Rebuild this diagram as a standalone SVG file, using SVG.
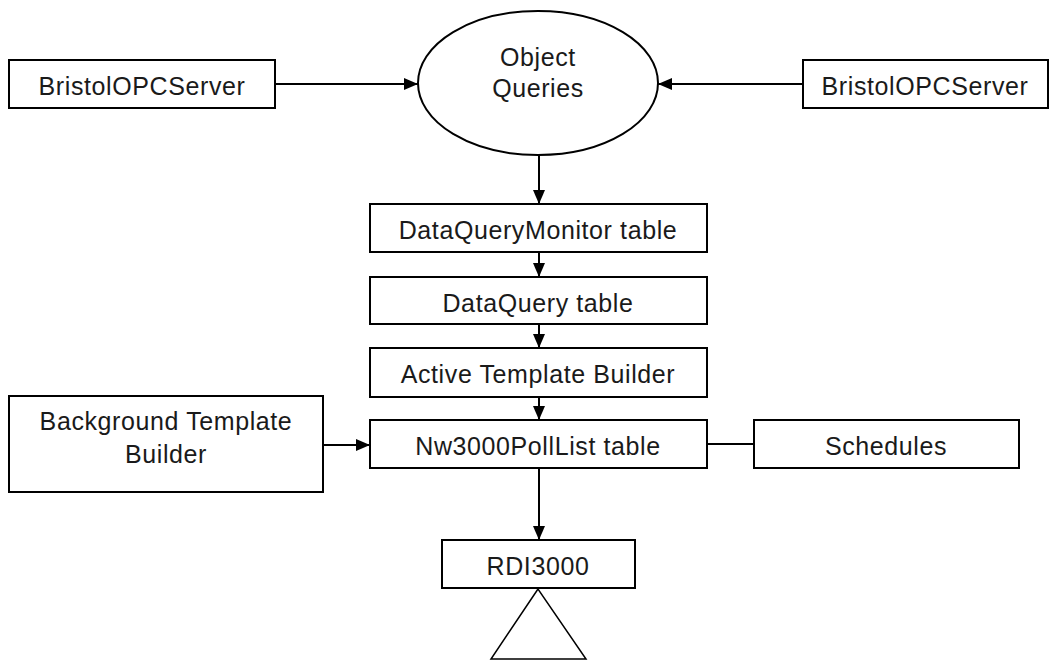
<svg xmlns="http://www.w3.org/2000/svg" width="1056" height="661" viewBox="0 0 1056 661">
<style>
.box{fill:#fff;stroke:#000;stroke-width:2}
.lbl{font-family:"Liberation Sans",Arial,sans-serif;font-size:25px;letter-spacing:0.6px;fill:#1a1a1a;text-anchor:middle}
.ln{stroke:#000;stroke-width:2;fill:none}
</style>
<defs>
<marker id="ah" markerWidth="14" markerHeight="12" refX="14" refY="6" orient="auto" markerUnits="userSpaceOnUse">
<path d="M0,0 L14,6 L0,12 Z" fill="#000"/>
</marker>
</defs>
<rect width="1056" height="661" fill="#fff"/>
<g id="connectors">
<line class="ln" x1="275" y1="84" x2="418" y2="84" marker-end="url(#ah)"/>
<line class="ln" x1="803" y1="84" x2="658" y2="84" marker-end="url(#ah)"/>
<line class="ln" x1="539" y1="155" x2="539" y2="204" marker-end="url(#ah)"/>
<line class="ln" x1="539" y1="252" x2="539" y2="277" marker-end="url(#ah)"/>
<line class="ln" x1="539" y1="324" x2="539" y2="348" marker-end="url(#ah)"/>
<line class="ln" x1="539" y1="397" x2="539" y2="420" marker-end="url(#ah)"/>
<line class="ln" x1="323" y1="445" x2="370" y2="445" marker-end="url(#ah)"/>
<line class="ln" x1="707" y1="444" x2="754" y2="444"/>
<line class="ln" x1="539" y1="468" x2="539" y2="540" marker-end="url(#ah)"/>
</g>
<g id="bristol-left">
<rect class="box" x="9" y="60" width="266" height="48"/>
<text class="lbl" x="142" y="95">BristolOPCServer</text>
</g>
<g id="object-queries">
<ellipse class="box" cx="538" cy="83" rx="120" ry="72"/>
<text class="lbl" x="538" y="66">Object</text>
<text class="lbl" x="538" y="97">Queries</text>
</g>
<g id="bristol-right">
<rect class="box" x="803" y="60" width="245" height="48"/>
<text class="lbl" x="925" y="95">BristolOPCServer</text>
</g>
<g id="dqm">
<rect class="box" x="370" y="204" width="337" height="48"/>
<text class="lbl" x="538" y="239">DataQueryMonitor table</text>
</g>
<g id="dq">
<rect class="box" x="370" y="277" width="337" height="47"/>
<text class="lbl" x="538" y="312">DataQuery table</text>
</g>
<g id="atb">
<rect class="box" x="370" y="348" width="337" height="49"/>
<text class="lbl" x="538" y="383">Active Template Builder</text>
</g>
<g id="btb">
<rect class="box" x="9" y="396" width="314" height="96"/>
<text class="lbl" x="166" y="430">Background Template</text>
<text class="lbl" x="166" y="463">Builder</text>
</g>
<g id="nw3000">
<rect class="box" x="370" y="420" width="337" height="48"/>
<text class="lbl" x="538" y="455">Nw3000PollList table</text>
</g>
<g id="schedules">
<rect class="box" x="754" y="420" width="265" height="48"/>
<text class="lbl" x="886" y="455">Schedules</text>
</g>
<g id="rdi3000">
<rect class="box" x="442" y="540" width="193" height="48"/>
<text class="lbl" x="538" y="575">RDI3000</text>
</g>
<g id="triangle">
<polygon points="538,589 491,659 586,659" fill="none" stroke="#000" stroke-width="1.5"/>
</g>
</svg>
